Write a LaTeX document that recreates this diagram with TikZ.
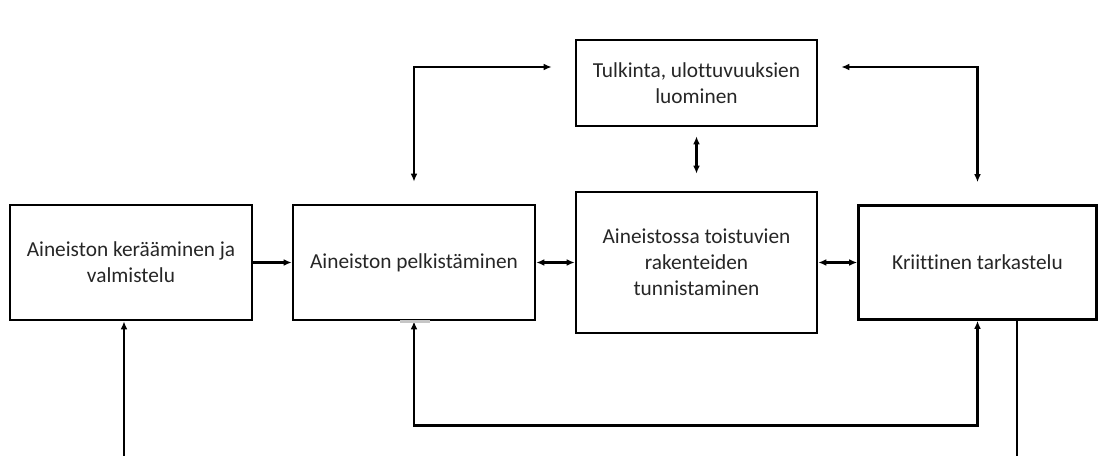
\documentclass[tikz,border=0pt]{standalone}
\usepackage{fontspec}
\setmainfont{Carlito}[Ligatures={NoCommon}]
\usetikzlibrary{arrows.meta,calc}

\tikzset{
  box/.style={draw, line width=1.9pt, align=center, text=black!85,
    font=\fontsize{16}{19.5}\selectfont, inner sep=0pt},
  arr/.style={line width=1.9pt, -{Latex[length=6pt,width=5pt]}},
  dbl/.style={line width=1.9pt, {Latex[length=6pt,width=5pt]}-{Latex[length=6pt,width=5pt]}}
}

\begin{document}
\begin{tikzpicture}[x=0.75pt,y=-0.75pt]
        \useasboundingbox (0,0) rectangle (1099,456);

        \node[box, minimum width=242*0.75pt, minimum height=115*0.75pt] (collect) at (131,262.5) {Aineiston kerääminen ja\\valmistelu};
        \node[box, minimum width=242*0.75pt, minimum height=115*0.75pt] (reduce) at (414,262.5) {Aineiston pelkistäminen};
        \node[box, minimum width=241*0.75pt, minimum height=141*0.75pt] (struct) at (696.5,262.5) {Aineistossa toistuvien\\rakenteiden\\tunnistaminen};
        \node[box, minimum width=238*0.75pt, minimum height=114*0.75pt] (critic) at (977.5,262.5) {Kriittinen tarkastelu};
        \node[box, minimum width=241*0.75pt, minimum height=86*0.75pt] (interp) at (696.5,83) {Tulkinta, ulottuvuuksien\\luominen};

        \draw[arr] (collect) -- (reduce);
        \draw[dbl] (reduce) -- (struct);
        \draw[dbl] (struct) -- (critic);
        \draw[dbl, shorten <=6.75pt, shorten >=12.75pt] (interp) -- (struct);

        \draw[dbl, shorten <=16.5pt, shorten >=17.25pt] (reduce.north) |- ($(interp.west)+(0,-16)$);
        \draw[dbl, shorten <=16.5pt, shorten >=17.25pt] (critic.north) |- ($(interp.east)+(0,-16)$);

        \draw[dbl] (reduce.south) -- ++(0,104) -| (critic.south);
        \draw[gray!45, line width=1.9pt] ($(reduce.south)+(-14,0)$) -- ++(30,0);

        \coordinate (feed) at (124,456);
        \coordinate (exit) at (1017,456);
        \draw[arr] (feed) -- (feed |- collect.south);
        \draw[line width=1.9pt] (exit |- critic.south) -- (exit);
\end{tikzpicture}
\end{document}
